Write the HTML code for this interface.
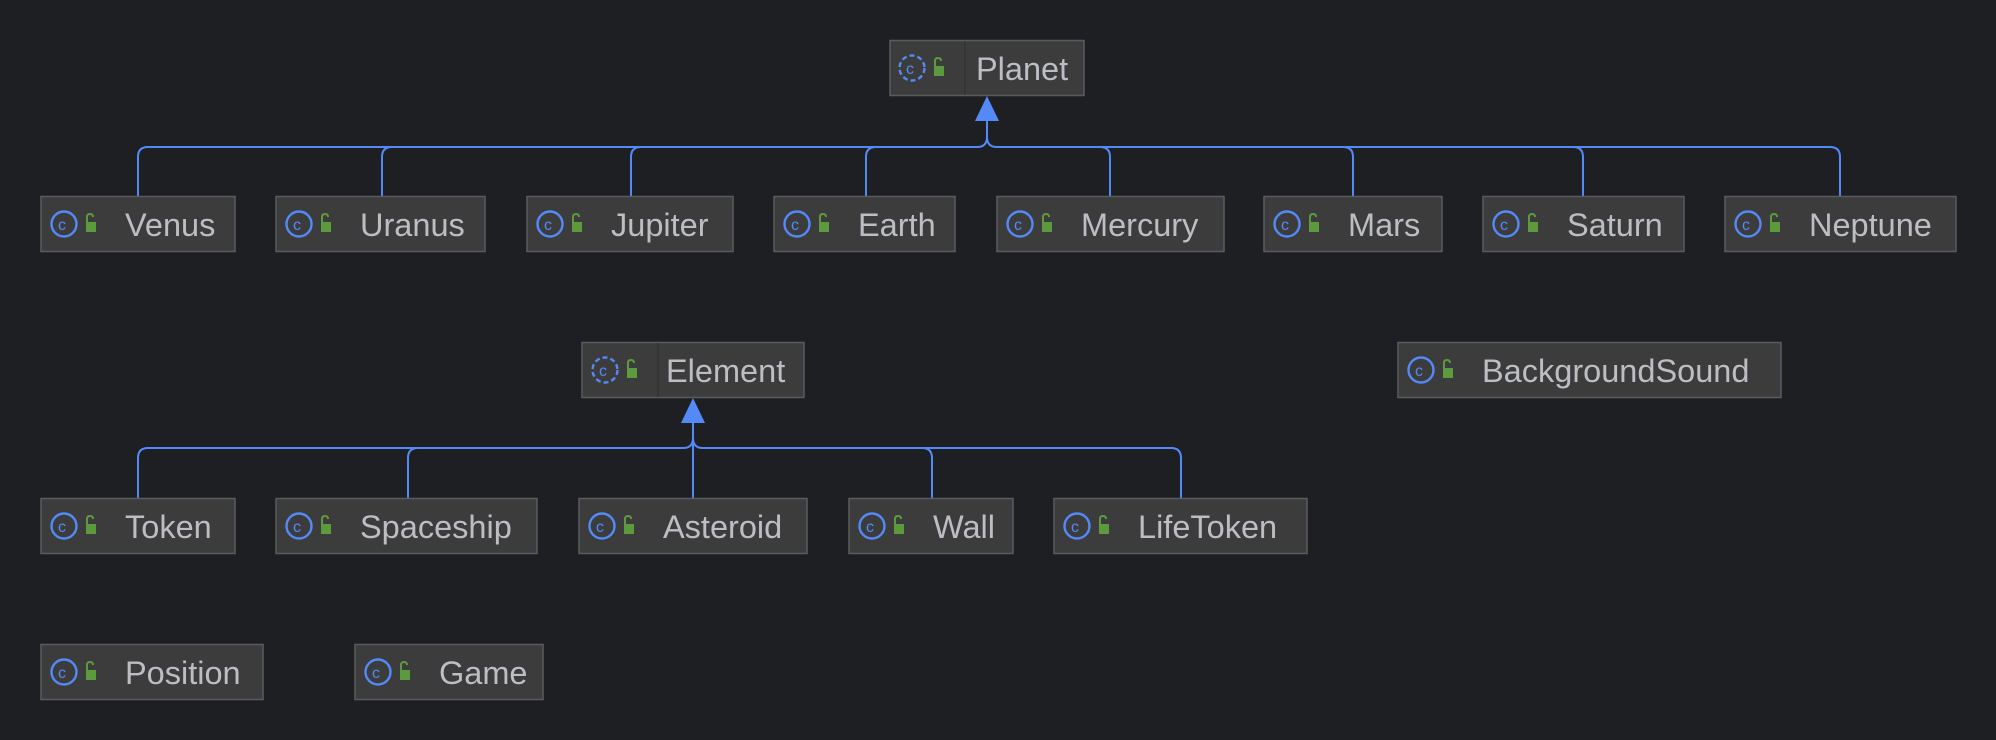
<!DOCTYPE html>
<html><head><meta charset="utf-8"><style>
html,body{margin:0;padding:0;background:#1e1f22;}
svg{display:block}
text{font-family:"Liberation Sans",sans-serif;font-size:32.5px;fill:#bcbec4;}
</style></head><body>
<svg width="1996" height="740" viewBox="0 0 1996 740" xmlns="http://www.w3.org/2000/svg">
<rect width="1996" height="740" fill="#1e1f22"/>
<g fill="none" stroke="#548af7" stroke-width="2">
<path d="M138 196 V157 Q138 147 148 147 H977 Q987 147 987 137 V118"/>
<path d="M382 196 V157 Q382 147 392 147"/>
<path d="M631 196 V157 Q631 147 641 147"/>
<path d="M866 196 V157 Q866 147 876 147"/>
<path d="M1840 196 V157 Q1840 147 1830 147 H997 Q987 147 987 137"/>
<path d="M1110 196 V157 Q1110 147 1100 147"/>
<path d="M1353 196 V157 Q1353 147 1343 147"/>
<path d="M1583 196 V157 Q1583 147 1573 147"/>
<path d="M138 498 V458 Q138 448 148 448 H683 Q693 448 693 438 V420"/>
<path d="M408 498 V458 Q408 448 418 448"/>
<path d="M693 498 V438"/>
<path d="M1181 498 V458 Q1181 448 1171 448 H703 Q693 448 693 438"/>
<path d="M932 498 V458 Q932 448 922 448"/>
</g>
<polygon points="987,96 975,121 999,121" fill="#548af7"/>
<polygon points="693,398 681,423 705,423" fill="#548af7"/>

<defs>
<g id="ic">
<circle cx="23" cy="28" r="12.5" fill="none" stroke="#548af7" stroke-width="2.4"/>
<text x="17" y="34" style="font-size:16px;fill:#548af7">c</text>
<rect x="45" y="26" width="10" height="10" fill="#5c9a3e"/>
<path d="M46 26 V21 Q46 18 49 18 Q52 18 52 21" fill="none" stroke="#5c9a3e" stroke-width="2"/>
</g>
<g id="ica">
<circle cx="23" cy="28" r="12.5" fill="none" stroke="#548af7" stroke-width="2.4" stroke-dasharray="5 3"/>
<text x="17" y="34" style="font-size:16px;fill:#548af7">c</text>
<rect x="45" y="26" width="10" height="10" fill="#5c9a3e"/>
<path d="M46 26 V21 Q46 18 49 18 Q52 18 52 21" fill="none" stroke="#5c9a3e" stroke-width="2"/>
</g>
</defs>

<g stroke="#5a5b5e" stroke-width="1.5" fill="#3c3c3d">
<rect x="890" y="40.5" width="194" height="55"/>
<rect x="582" y="342.5" width="222" height="55"/>
<rect x="41" y="196.5" width="194" height="55"/>
<rect x="276" y="196.5" width="209" height="55"/>
<rect x="527" y="196.5" width="206" height="55"/>
<rect x="774" y="196.5" width="181" height="55"/>
<rect x="997" y="196.5" width="227" height="55"/>
<rect x="1264" y="196.5" width="178" height="55"/>
<rect x="1483" y="196.5" width="201" height="55"/>
<rect x="1725" y="196.5" width="231" height="55"/>
<rect x="1398" y="342.5" width="383" height="55"/>
<rect x="41" y="498.5" width="194" height="55"/>
<rect x="276" y="498.5" width="261" height="55"/>
<rect x="579" y="498.5" width="228" height="55"/>
<rect x="849" y="498.5" width="164" height="55"/>
<rect x="1054" y="498.5" width="253" height="55"/>
<rect x="41" y="644.5" width="222" height="55"/>
<rect x="355" y="644.5" width="188" height="55"/>
</g>
<line x1="965" y1="41" x2="965" y2="95" stroke="#333335" stroke-width="1.5"/>
<line x1="658" y1="343" x2="658" y2="397" stroke="#333335" stroke-width="1.5"/>

<use href="#ica" x="889" y="40"/><text x="976" y="80">Planet</text>
<use href="#ica" x="582" y="342"/><text x="666" y="382">Element</text>
<use href="#ic" x="41" y="196"/><text x="125" y="236">Venus</text>
<use href="#ic" x="276" y="196"/><text x="360" y="236">Uranus</text>
<use href="#ic" x="527" y="196"/><text x="611" y="236">Jupiter</text>
<use href="#ic" x="774" y="196"/><text x="858" y="236">Earth</text>
<use href="#ic" x="997" y="196"/><text x="1081" y="236">Mercury</text>
<use href="#ic" x="1264" y="196"/><text x="1348" y="236">Mars</text>
<use href="#ic" x="1483" y="196"/><text x="1567" y="236">Saturn</text>
<use href="#ic" x="1725" y="196"/><text x="1809" y="236">Neptune</text>
<use href="#ic" x="1398" y="342"/><text x="1482" y="382">BackgroundSound</text>
<use href="#ic" x="41" y="498"/><text x="125" y="538">Token</text>
<use href="#ic" x="276" y="498"/><text x="360" y="538">Spaceship</text>
<use href="#ic" x="579" y="498"/><text x="663" y="538">Asteroid</text>
<use href="#ic" x="849" y="498"/><text x="933" y="538">Wall</text>
<use href="#ic" x="1054" y="498"/><text x="1138" y="538">LifeToken</text>
<use href="#ic" x="41" y="644"/><text x="125" y="684">Position</text>
<use href="#ic" x="355" y="644"/><text x="439" y="684">Game</text>
</svg>
</body></html>
